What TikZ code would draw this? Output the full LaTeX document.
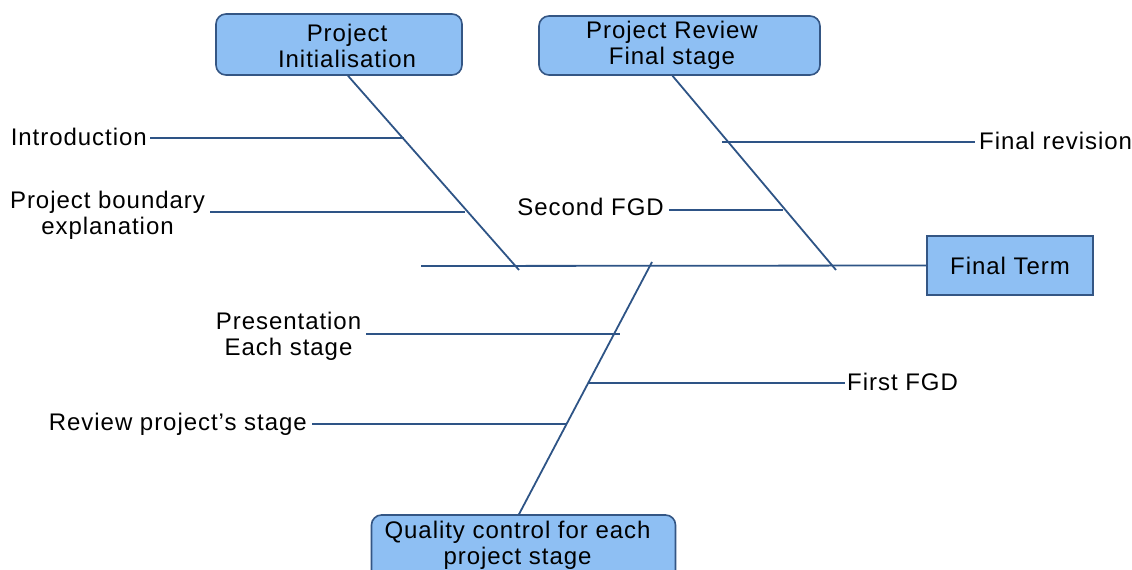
\documentclass[tikz,border=0pt]{standalone}
\usepackage{fontspec}
\setmainfont{Liberation Sans}[LetterSpace=4]
\definecolor{linec}{RGB}{46,84,134}
\definecolor{boxf}{RGB}{142,191,243}
\definecolor{boxd}{RGB}{52,86,132}
\newcommand{\twol}[2]{\begin{tabular}[t]{@{}c@{}}#1\\#2\end{tabular}}
\begin{document}
\begin{tikzpicture}[x=1pt,y=-1pt,
  bone/.style={draw=linec, line width=1.8pt},
  rbox/.style={draw=boxd, fill=boxf, line width=1.6pt, rounded corners=10pt, inner sep=0pt},
  sbox/.style={draw=boxd, fill=boxf, line width=1.6pt, inner sep=0pt, font=\fontsize{24}{26}\selectfont},
  lab/.style={inner sep=0pt, font=\fontsize{24}{26}\selectfont}]
\useasboundingbox (0,0) rectangle (1132,570);
\clip (0,0) rectangle (1132,570);
% boxes
\node[rbox, minimum width=246pt, minimum height=61pt] (pinit) at (339,44.5) {};
\node[lab, anchor=base] (pinitT) at (347,41.7) {\twol{Project}{Initialisation}};
\node[rbox, minimum width=281pt, minimum height=59pt] (prev) at (679.5,45.5) {};
\node[lab, anchor=base] (prevT) at (672,38.3) {\twol{Project Review}{Final stage}};
\node[sbox, minimum width=166pt, minimum height=59pt] (fterm) at (1010,265.5) {Final Term};
\node[rbox, minimum width=304pt, minimum height=80pt] (qc) at (523.5,555) {};
\node[lab, anchor=base] (qcT) at (517.5,538.3) {\twol{Quality control for each}{project stage}};
% labels
\node[lab, anchor=base east] (intro) at (147,145.5) {Introduction};
\node[lab, anchor=base] (pb) at (107.5,208.5) {\twol{Project boundary}{explanation}};
\node[lab, anchor=base east] (sfgd) at (664,215) {Second FGD};
\node[lab, anchor=base west] (frev) at (979,149.5) {Final revision};
\node[lab, anchor=base] (pres) at (288.5,329.3) {\twol{Presentation}{Each stage}};
\node[lab, anchor=base west] (ffgd) at (847,390) {First FGD};
\node[lab, anchor=base east] (rps) at (307,430) {Review project’s stage};
% coordinates
\coordinate (sp0) at (421,266);
\coordinate (d1) at (519,270);
\coordinate (d2) at (836,270);
\coordinate (d3) at (652,262);
\coordinate (i1) at (404,138);
\coordinate (i2) at (465,212);
\coordinate (r1) at (722,142);
\coordinate (r2) at (783,210);
\coordinate (q1) at (620,334);
\coordinate (q2) at (588,383);
\coordinate (q3) at (566,424);
% spine
\draw[bone] (sp0) -- (fterm.west);
% bones
\draw[bone] ([xshift=9pt]pinit.south) -- (d1);
\draw[bone] ([xshift=-7pt]prev.south) -- (d2);
\draw[bone] ([xshift=-4.5pt]qc.north) -- (d3);
% branches
\draw[bone, shorten <=3pt] (intro.east |- i1) -- (i1);
\draw[bone, shorten <=5pt] (pb.east |- i2) -- (i2);
\draw[bone, shorten >=4pt] (r1) -- (frev.west |- r1);
\draw[bone, shorten <=5pt] (sfgd.east |- r2) -- (r2);
\draw[bone, shorten <=5pt] (pres.east |- q1) -- (q1);
\draw[bone, shorten >=2pt] (q2) -- (ffgd.west |- q2);
\draw[bone, shorten <=5pt] (rps.east |- q3) -- (q3);
\end{tikzpicture}
\end{document}
